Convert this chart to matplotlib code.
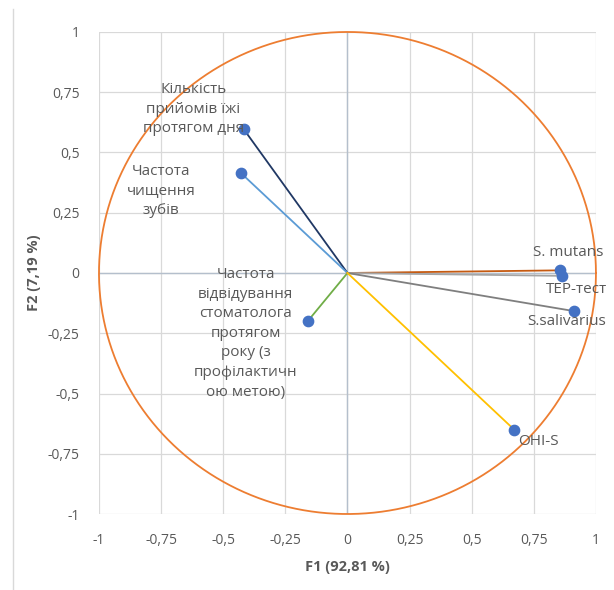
import numpy as np
import matplotlib
matplotlib.use("Agg")
import matplotlib.pyplot as plt
from matplotlib.lines import Line2D

plt.rcParams['font.family'] = ['Open Sans', 'DejaVu Sans']

# variable coordinates on F1 / F2
names = ["Кількість\nприйомів їжі\nпротягом дня",
         "Частота\nчищення\nзубів",
         "Частота\nвідвідування\nстоматолога\nпротягом\nроку (з\nпрофілактичн\nою метою)",
         "S. mutans", "TEP-тест", "S.salivarius", "OHI-S"]
f1 = [-0.417, -0.43, -0.16, 0.855, 0.864, 0.911, 0.672]
f2 = [0.596, 0.416, -0.20, 0.011, -0.012, -0.158, -0.651]
line_colors = ["#203864", "#5B9BD5", "#70AD47", "#C55A11", "#A5A5A5", "#7F7F7F", "#FFC000"]
# label anchor (centre of text block)
lab_x = [-0.62, -0.75, -0.41, 0.89, 0.92, 0.88, 0.77]
lab_y = [0.68, 0.34, -0.25, 0.087, -0.07, -0.20, -0.70]

ticks = [-1, -0.75, -0.5, -0.25, 0, 0.25, 0.5, 0.75, 1]
tick_labels = ["-1", "-0,75", "-0,5", "-0,25", "0", "0,25", "0,5", "0,75", "1"]

txt = "#595959"
fig = plt.figure(figsize=(6.14, 5.9), dpi=100)
ax = fig.add_axes([0.1612, 0.1288, 0.8094, 0.817])
ax.set_xlim(-1, 1)
ax.set_ylim(-1, 1)
ax.set_xticks(ticks)
ax.set_yticks(ticks)
ax.set_xticklabels(tick_labels)
ax.set_yticklabels(tick_labels)
ax.tick_params(length=0, labelsize=10, labelcolor=txt, pad=14)
for s in ax.spines.values():
    s.set_visible(False)
ax.grid(True, color="#D9D9D9", lw=0.9)
ax.set_axisbelow(True)
ax.axhline(0, color="#B4BFCC", lw=1, zorder=1)
ax.axvline(0, color="#B4BFCC", lw=1, zorder=1)

t = np.linspace(0, 2 * np.pi, 400)
ax.plot(np.cos(t), np.sin(t), color="#ED7D31", lw=1.3, clip_on=False, zorder=2)

for x, y, c in zip(f1, f2, line_colors):
    ax.plot([0, x], [0, y], color=c, lw=1.3, zorder=3)
ax.scatter(f1, f2, s=55, color="#4472C4", zorder=4)

for n, x, y in zip(names, lab_x, lab_y):
    ax.text(x, y, n, ha="center", va="center", fontsize=11, color=txt,
            linespacing=1.42, zorder=5)

ax.set_xlabel("F1 (92,81 %)", fontsize=10.5, fontweight="bold", color=txt, labelpad=8)
ax.set_ylabel("F2 (7,19 %)", fontsize=10.5, fontweight="bold", color=txt, labelpad=5)

fig.add_artist(Line2D([13 / 614, 13 / 614], [0.0, 0.985], color="#D9D9D9", lw=1))

fig.savefig("out.png", dpi=100)
